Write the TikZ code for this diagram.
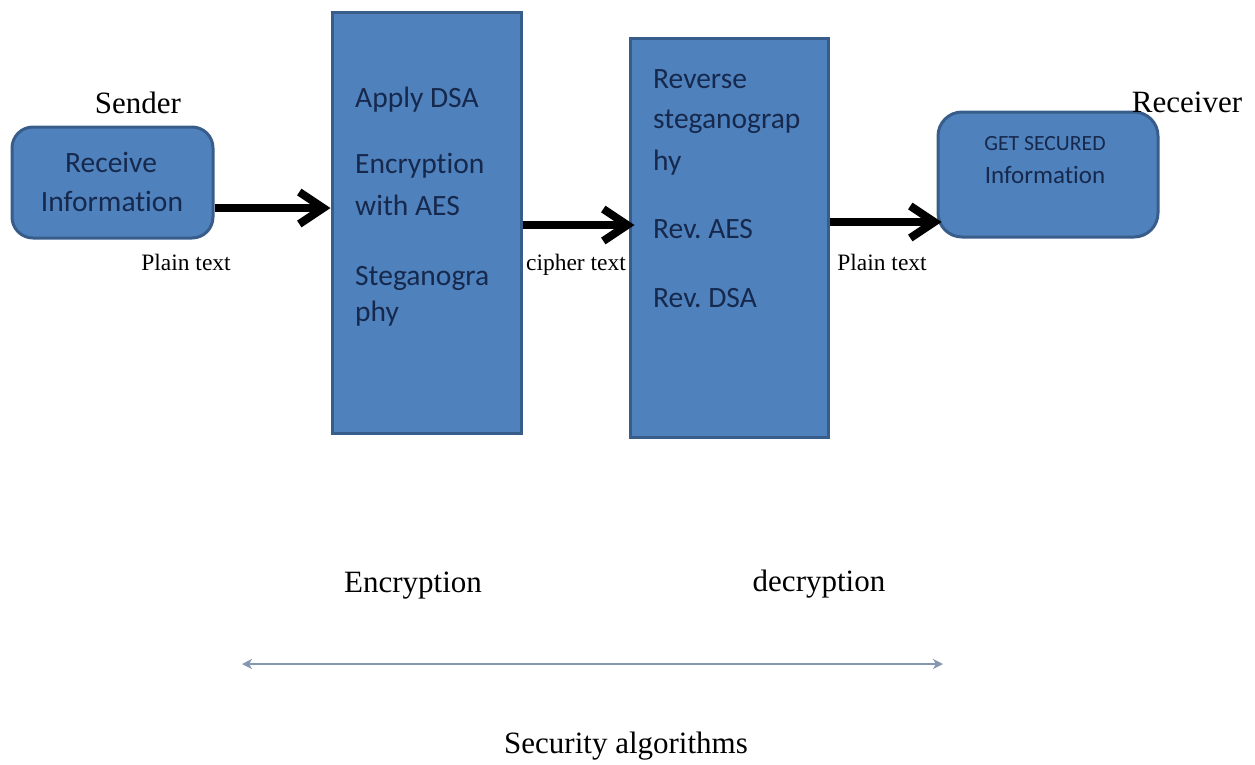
\documentclass[tikz,border=0pt]{standalone}
\usepackage{fontspec}
\setmainfont{Liberation Serif}
\newfontfamily\calfont[Ligatures=NoCommon]{Carlito}
\usetikzlibrary{arrows.meta}
\definecolor{boxfill}{HTML}{4F81BD}
\definecolor{boxdraw}{HTML}{385D8A}
\definecolor{boxtext}{HTML}{16294D}
\definecolor{rangeline}{HTML}{8496B0}
\tikzset{
  procbox/.style={draw=boxdraw, fill=boxfill, line width=3pt, inner sep=0pt},
  roundbox/.style={procbox, rounded corners=21pt},
  boxline/.style={anchor=base west, inner sep=0pt, text=boxtext, font=\calfont\fontsize{29.5}{35}\selectfont},
  centerline/.style={anchor=base, inner sep=0pt, text=boxtext, font=\calfont\fontsize{29.5}{35}\selectfont},
  biglabel/.style={anchor=base, inner sep=0pt, font=\fontsize{31}{37}\selectfont},
  smalllabel/.style={anchor=base, inner sep=0pt, font=\fontsize{23.5}{28}\selectfont},
  bigarrow/.style={line width=8pt, -{Straight Barb[length=24pt, width=32pt]}},
  rangearrow/.style={draw=rangeline, line width=2.2pt, {Stealth[length=10pt, width=10pt, inset=3pt]}-{Stealth[length=10pt, width=10pt, inset=3pt]}}
}
\begin{document}
\begin{tikzpicture}[x=1pt, y=-1pt]
\frenchspacing
\useasboundingbox (0,0) rectangle (1255,764);
% boxes
\node[roundbox, minimum width=201pt, minimum height=111pt] (sender) at (112.5,182.5) {};
\node[procbox, minimum width=189pt, minimum height=421pt] (enc) at (426.5,222.5) {};
\node[procbox, minimum width=198pt, minimum height=399pt] (dec) at (729,237.5) {};
\node[roundbox, rounded corners=24pt, minimum width=220pt, minimum height=125pt] (receiver) at (1048,174.5) {};
% box texts
\node[centerline] (s1) at (111,172) {Receive};
\node[centerline] (s2) at (112,211) {Information};
\node[boxline] (e1) at (355,107) {Apply DSA};
\node[boxline] (e2) at (355,173) {Encryption};
\node[boxline] (e3) at (355,215) {with AES};
\node[boxline] (e4) at (355,285) {Steganogra};
\node[boxline] (e5) at (355,321) {phy};
\node[boxline] (d1) at (653,88) {Reverse};
\node[boxline] (d2) at (653,128) {steganograp};
\node[boxline] (d3) at (653,170) {hy};
\node[boxline] (d4) at (653,238) {Rev. AES};
\node[boxline] (d5) at (653,307) {Rev. DSA};
\node[centerline, font=\calfont\fontsize{21.7}{26}\selectfont] (r1) at (1045,150) {GET SECURED};
\node[centerline, font=\calfont\fontsize{25}{30}\selectfont] (r2) at (1045,183) {Information};
% labels
\node[biglabel] (lsender) at (138,113) {Sender};
\node[biglabel] (lreceiver) at (1187,112) {Receiver};
\node[smalllabel] (lp1) at (186,270) {Plain text};
\node[smalllabel] (lc) at (576,270) {cipher text};
\node[smalllabel] (lp2) at (882,270) {Plain text};
\node[biglabel] (lenc) at (413,592) {Encryption};
\node[biglabel] (ldec) at (819,591) {decryption};
\node[biglabel] (lsec) at (626,753) {Security algorithms};
% arrows
\coordinate (a1s) at ([yshift=-25.5pt]sender.east);
\coordinate (a1e) at (a1s -| enc.west);
\draw[bigarrow] (a1s) -- (a1e);
\coordinate (a2s) at ([yshift=-2.5pt]enc.east);
\coordinate (a2e) at ([xshift=6pt]a2s -| dec.west);
\draw[bigarrow] (a2s) -- (a2e);
\coordinate (a3s) at ([yshift=15.5pt]dec.east);
\coordinate (a3e) at ([xshift=5pt]a3s -| receiver.west);
\draw[bigarrow] (a3s) -- (a3e);
% range arrow
\coordinate (rl) at (242,664);
\coordinate (rr) at (943,664);
\draw[rangearrow] (rl) -- (rr);
\end{tikzpicture}
\end{document}
